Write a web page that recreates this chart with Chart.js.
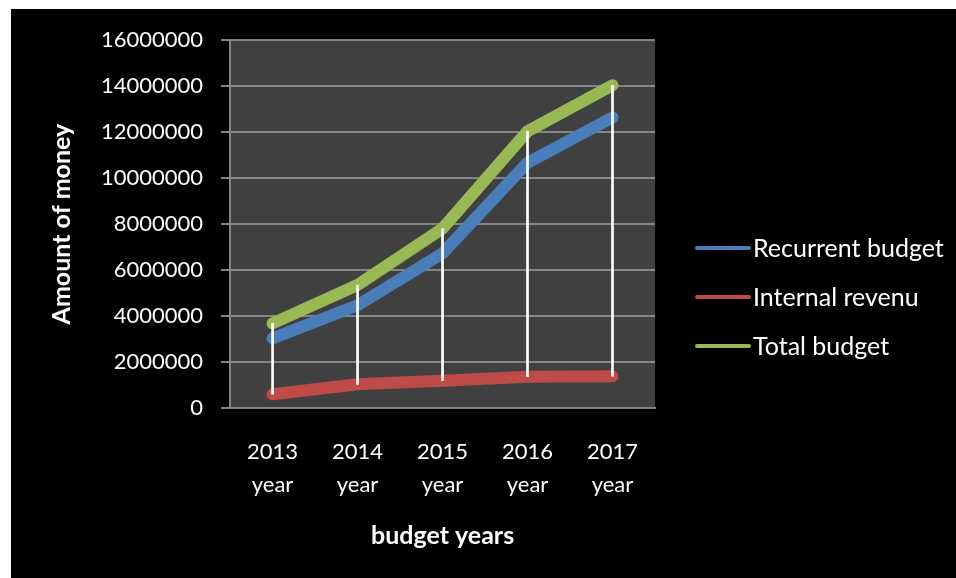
<!DOCTYPE html>
<html>
<head>
<meta charset="utf-8">
<script src="https://cdn.jsdelivr.net/npm/chart.js@4"></script>
<style>
  body { margin: 0; background: #fff; }
  #wrap { position: absolute; left: 11px; top: 9px; width: 945px; height: 569px; background: #000; }
</style>
</head>
<body>
<div id="wrap"><canvas id="budgetChart" width="945" height="569"></canvas></div>
<script>
'use strict'

// Data
const years = ['2013', '2014', '2015', '2016', '2017']
const yearLabels = years.map((y) => [y, 'year'])
const recurrentBudget = [3030000, 4470000, 6730000, 10670000, 12640000]
const internalRevenu = [600000, 1030000, 1190000, 1360000, 1380000]
const totalBudget = [3680000, 5350000, 7810000, 12040000, 14040000]
const yTicks = [0, 2000000, 4000000, 6000000, 8000000, 10000000, 12000000, 14000000, 16000000]

const FONT = 'Lato'
const GRID = '#858585'

// high-low lines from internal revenue up to total budget
const dropLines = years.map((y, i) => [internalRevenu[i], totalBudget[i]])

// dark plot background
const plotBg = {
  id: 'plotBg',
  beforeDraw(chart) {
    const {ctx, chartArea: a} = chart
    ctx.save()
    ctx.fillStyle = '#404040'
    ctx.fillRect(a.left, a.top, a.right - a.left, a.bottom - a.top)
    ctx.restore()
  }
}

// legend on the right, line samples like the original
const sideLegend = {
  id: 'sideLegend',
  afterDraw(chart) {
    const {ctx} = chart
    const items = chart.data.datasets.filter((d) => d.type !== 'bar')
    ctx.save()
    ctx.font = '25px ' + FONT
    ctx.textBaseline = 'middle'
    items.forEach((d, i) => {
      const y = 239 + i * 49
      ctx.strokeStyle = d.borderColor
      ctx.lineWidth = 4
      ctx.lineCap = 'round'
      ctx.beginPath()
      ctx.moveTo(686, y)
      ctx.lineTo(738, y)
      ctx.stroke()
      ctx.fillStyle = '#fff'
      ctx.fillText(d.label, 742, y + 1)
    })
    ctx.restore()
  }
}

const budgetChart = new Chart(
  document.getElementById('budgetChart'),
  {
    type: 'line',
    data: {
      labels: yearLabels,
      datasets: [
        {
          type: 'bar',
          label: 'drop',
          data: dropLines,
          backgroundColor: '#ffffff',
          barThickness: 2,
          order: 0
        },
        {
          label: 'Recurrent budget',
          data: recurrentBudget,
          borderColor: '#4a7ebb',
          order: 2
        },
        {
          label: 'Internal revenu',
          data: internalRevenu,
          borderColor: '#be4b48',
          order: 3
        },
        {
          label: 'Total budget',
          data: totalBudget,
          borderColor: '#98b954',
          order: 1
        }
      ]
    },
    options: {
      responsive: false,
      animation: false,
      layout: {
        padding: {top: 30, left: 36, right: 301, bottom: 27}
      },
      elements: {
        line: {
          borderWidth: 12,
          borderCapStyle: 'round',
          borderJoinStyle: 'round',
          tension: 0
        },
        point: {radius: 0, hoverRadius: 0}
      },
      scales: {
        x: {
          offset: true,
          grid: {display: false, drawTicks: false},
          border: {display: true, color: GRID, width: 2},
          ticks: {
            color: '#fff',
            padding: 27,
            maxRotation: 0,
            font: {family: FONT, size: 22, lineHeight: 1.5}
          },
          title: {
            display: true,
            text: 'budget years',
            color: '#fff',
            font: {family: FONT, size: 25, weight: 'bold', lineHeight: 1.2},
            // tick padding is counted twice by the axis fit, pull the title back up
            padding: {top: -7, bottom: 0}
          }
        },
        y: {
          min: 0,
          max: 16000000,
          afterBuildTicks: (axis) => {
            axis.ticks = yTicks.map((v) => ({value: v}))
          },
          grid: {
            color: GRID,
            lineWidth: 2,
            tickLength: 9,
            tickColor: GRID
          },
          border: {display: true, color: GRID, width: 2},
          ticks: {
            color: '#fff',
            padding: 18,
            font: {family: FONT, size: 22},
            callback: (v) => String(v)
          },
          title: {
            display: true,
            text: 'Amount of money',
            color: '#fff',
            font: {family: FONT, size: 25, weight: 'bold', lineHeight: 1.2},
            padding: {top: 0, bottom: 6}
          }
        }
      },
      plugins: {
        legend: {display: false},
        tooltip: {enabled: false}
      }
    },
    plugins: [plotBg, sideLegend]
  }
)
</script>
</body>
</html>
